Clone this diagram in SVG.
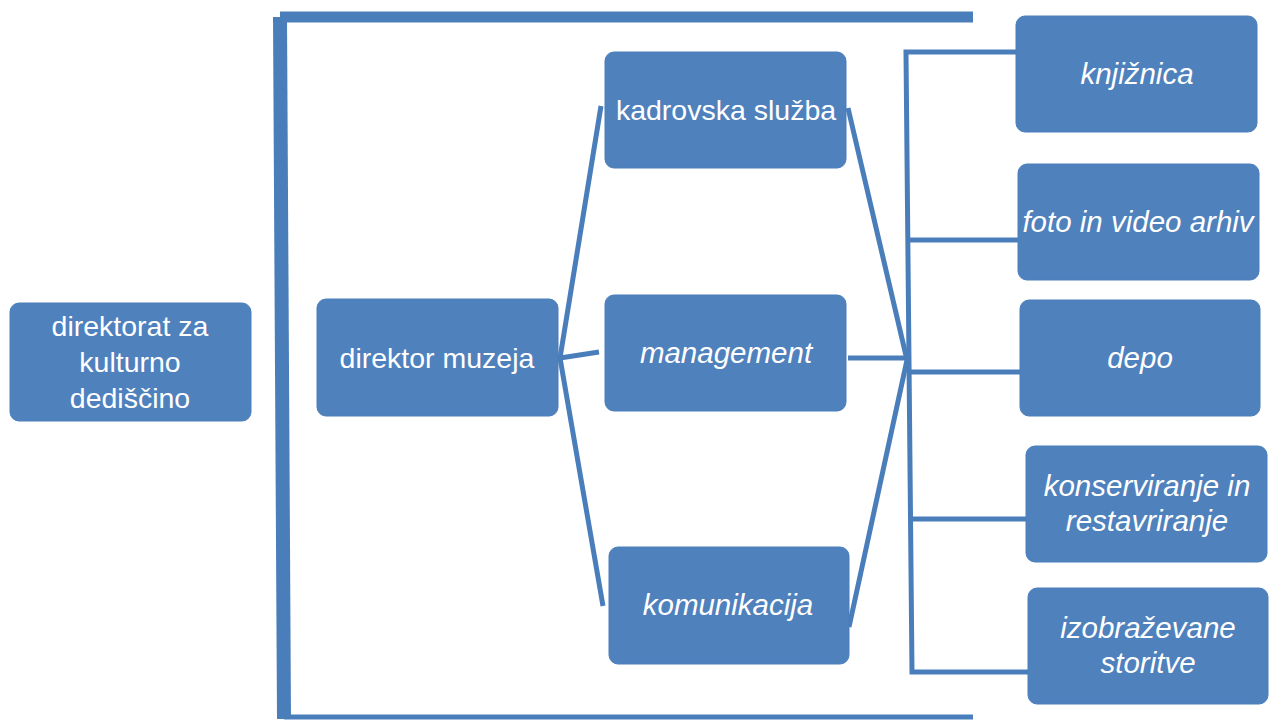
<svg xmlns="http://www.w3.org/2000/svg" width="1269" height="720" viewBox="0 0 1269 720">
<style>
.box{fill:#4F81BD;stroke:#4A7EBB;stroke-width:1}
.t{fill:#FFFFFF;font-family:"Liberation Sans",Arial,sans-serif;font-size:28.5px;text-anchor:middle}
.i{font-style:italic;font-size:29.5px}
.ln{fill:none;stroke:#4A7EBB;stroke-width:5;stroke-linecap:butt}
</style>
<rect width="1269" height="720" fill="#FFFFFF"/>
<g id="connectors">
<path d="M280,17 H973" class="ln" style="stroke-width:11"/>
<path d="M280,17 L284,719" class="ln" style="stroke-width:14"/>
<path d="M284,717 H973" class="ln" style="stroke-width:5"/>
<path d="M601,106 L560,358 L603,606" class="ln"/>
<path d="M560,358 L599,352" class="ln"/>
<path d="M848,108 L907,360 L849,627" class="ln"/>
<path d="M848,358 H907" class="ln"/>
<path d="M1030,52 H906 L912,672 H1028" class="ln"/>
<path d="M909,240 H1018" class="ln"/>
<path d="M910,372 H1029" class="ln"/>
<path d="M911,519 H1026" class="ln"/>
</g>
<g id="n1"><rect class="box" x="10" y="303" width="241" height="118" rx="9"/>
<text class="t" x="130" y="336">direktorat za</text><text class="t" x="130" y="372">kulturno</text><text class="t" x="130" y="408">dediščino</text></g>
<g id="n2"><rect class="box" x="317" y="299" width="241" height="117" rx="9"/><text class="t" x="437" y="368">direktor muzeja</text></g>
<g id="n3"><rect class="box" x="605" y="52" width="241" height="116" rx="9"/><text class="t" x="726" y="120">kadrovska služba</text></g>
<g id="n4"><rect class="box" x="605" y="295" width="241" height="116" rx="9"/><text class="t i" x="726" y="363">management</text></g>
<g id="n5"><rect class="box" x="609" y="547" width="240" height="117" rx="9"/><text class="t i" x="728" y="615">komunikacija</text></g>
<g id="n6"><rect class="box" x="1016" y="16" width="241" height="116" rx="9"/><text class="t i" x="1137" y="84">knjižnica</text></g>
<g id="n7"><rect class="box" x="1018" y="164" width="241" height="116" rx="9"/><text class="t i" x="1138" y="232">foto in video arhiv</text></g>
<g id="n8"><rect class="box" x="1020" y="300" width="240" height="116" rx="9"/><text class="t i" x="1140" y="368">depo</text></g>
<g id="n9"><rect class="box" x="1026" y="446" width="241" height="116" rx="9"/><text class="t i" x="1147" y="496">konserviranje in</text><text class="t i" x="1147" y="531">restavriranje</text></g>
<g id="n10"><rect class="box" x="1028" y="588" width="240" height="116" rx="9"/><text class="t i" x="1148" y="638">izobraževane</text><text class="t i" x="1148" y="673">storitve</text></g>
</svg>
